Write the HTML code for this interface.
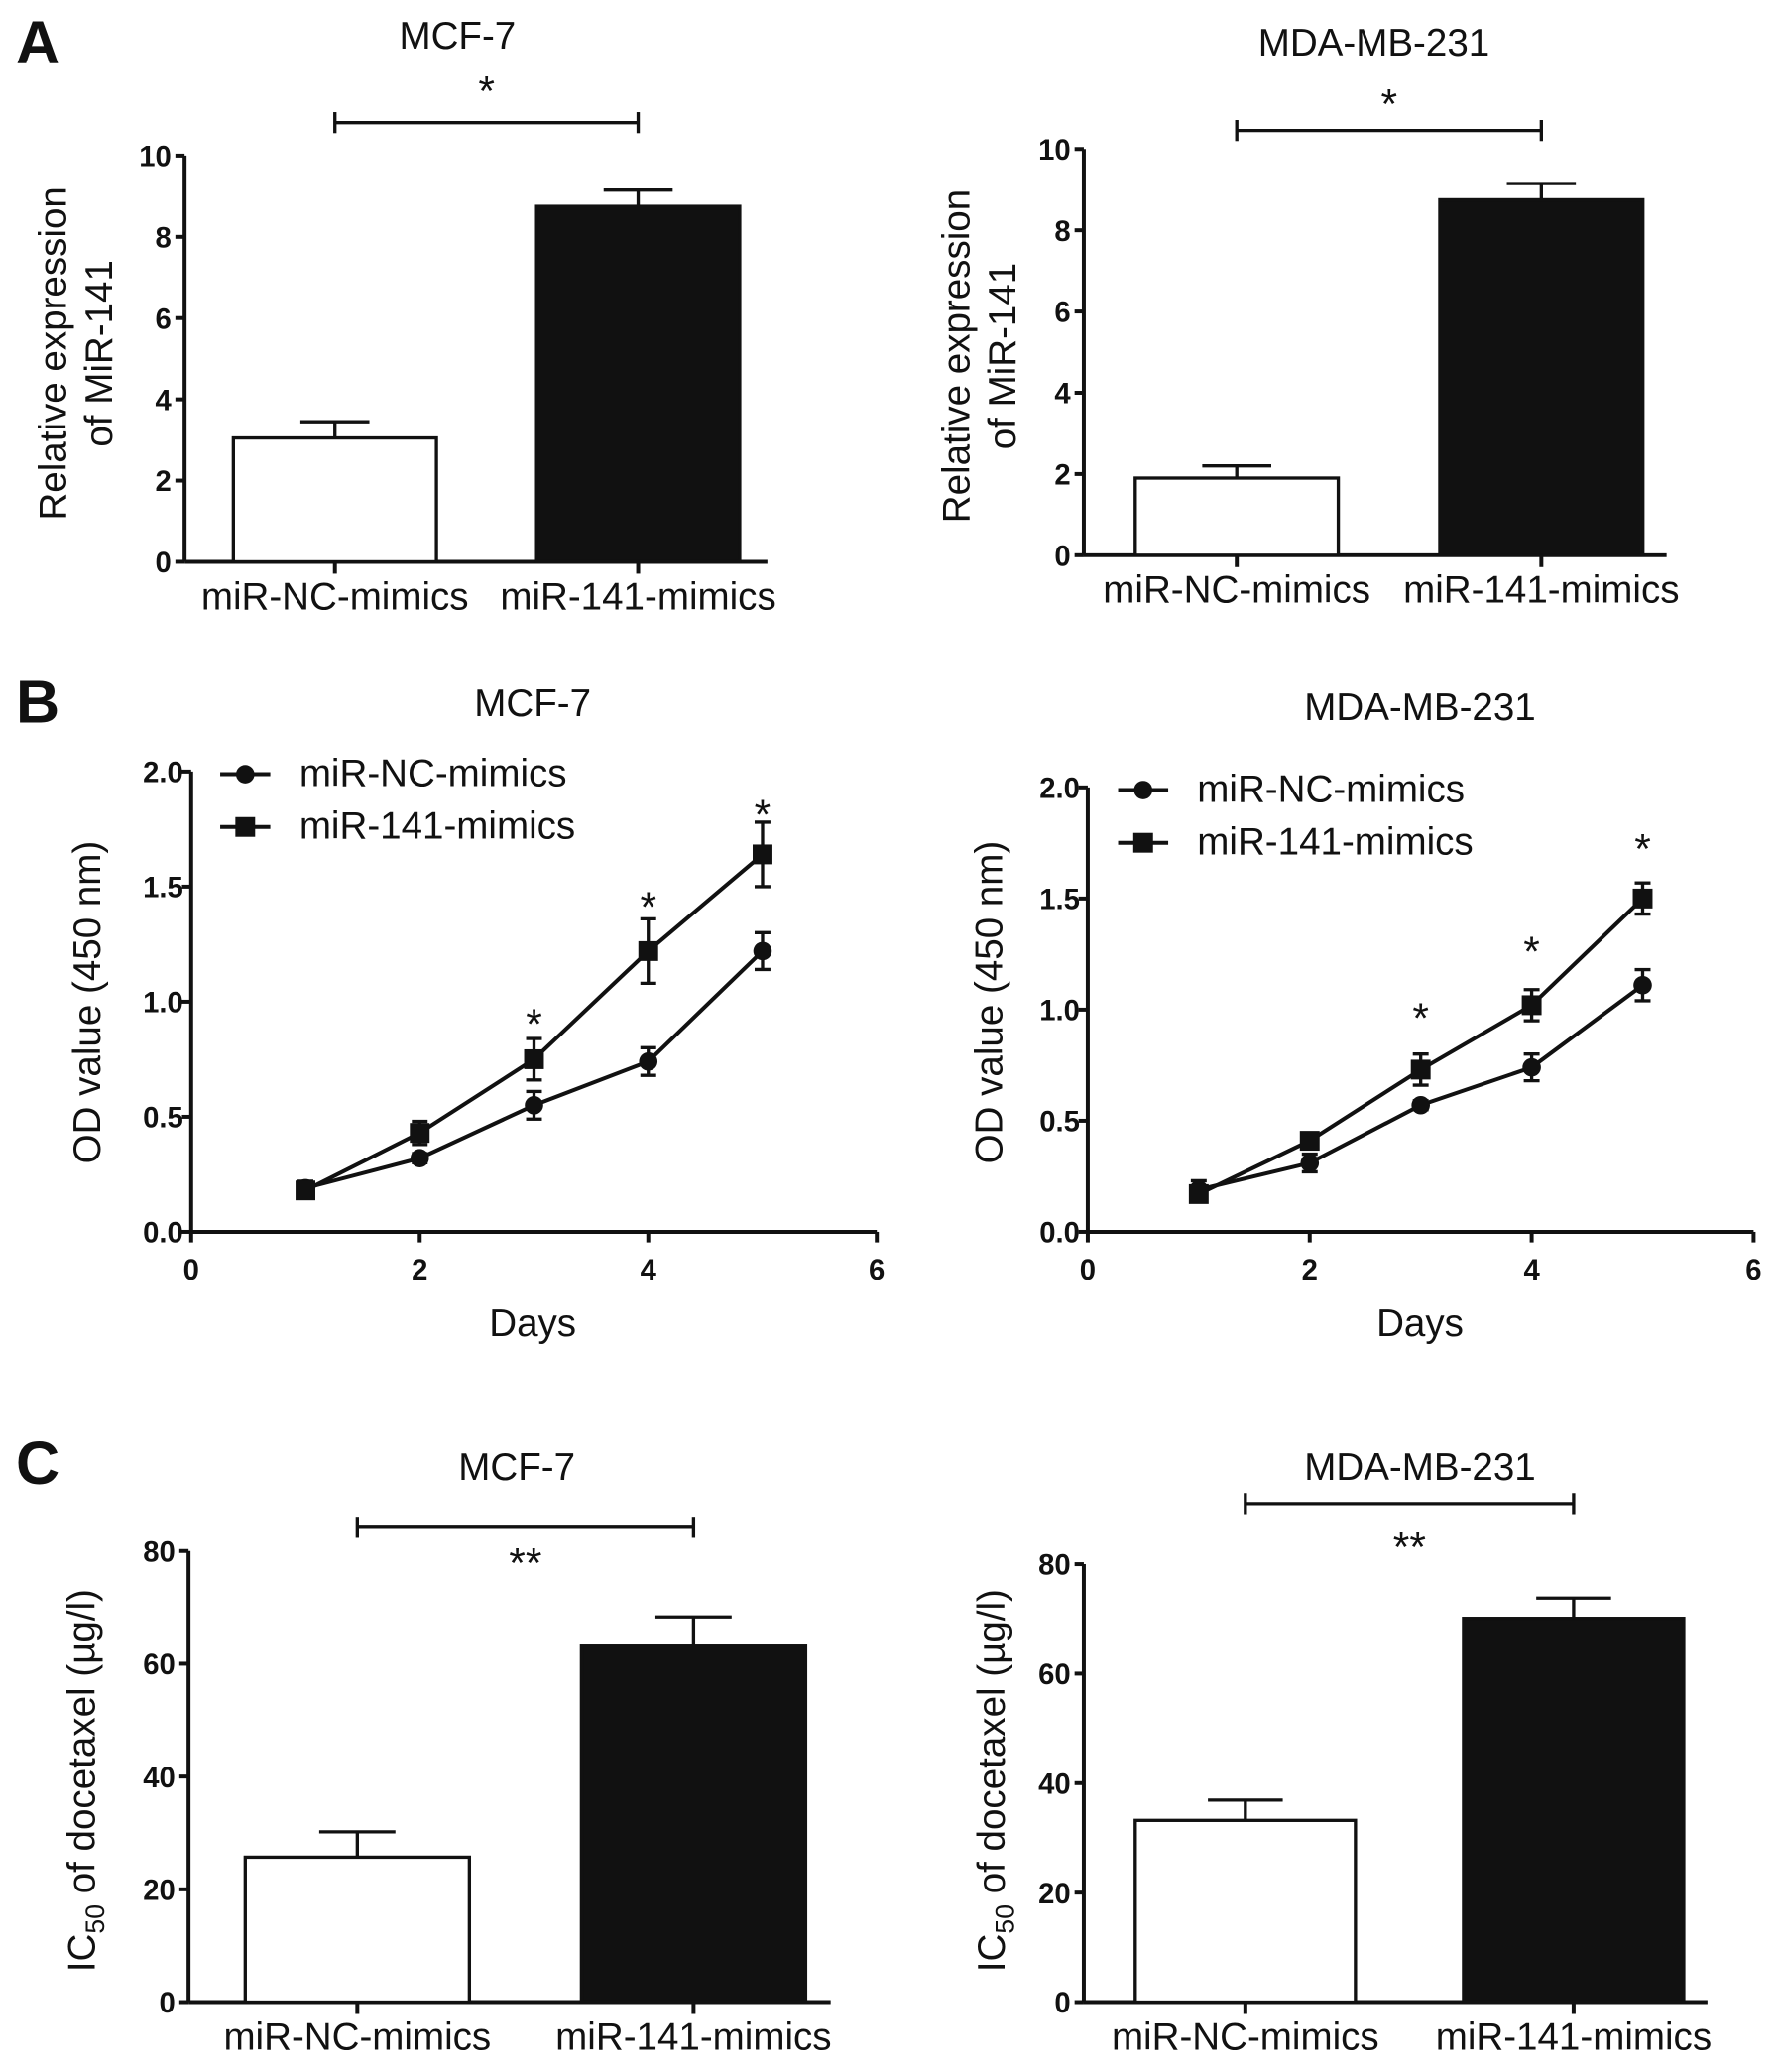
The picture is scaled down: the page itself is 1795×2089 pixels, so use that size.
<!DOCTYPE html>
<html><head><meta charset="utf-8"><style>
html,body{margin:0;padding:0;background:#fff;}
svg{display:block;}
text{font-family:"Liberation Sans Narrow","Liberation Sans",sans-serif;fill:#111;}
.tk{font-weight:bold;font-size:22px;}
.ttl{font-size:29px;}
.st{font-size:32px;}
.lab{font-size:29px;}
.pl{font-family:"Liberation Sans",sans-serif;font-weight:bold;font-size:46px;}
</style></head><body>
<svg id="fig" width="1795" height="2089" viewBox="0 0 1350 1571" preserveAspectRatio="none" xmlns="http://www.w3.org/2000/svg">
<text class="pl" x="12" y="48">A</text>
<text class="pl" x="12" y="548">B</text>
<text class="pl" x="12" y="1125">C</text>
</svg>
<script>
// ---- Panel A data ----
const barCats = ["miR-NC-mimics","miR-141-mimics"];
const aMcfVals = [3.05, 8.75];
const aMcfErr = [0.4, 0.4];
const aMdaVals = [1.9, 8.75];
const aMdaErr = [0.3, 0.4];
const aTicks = [0,2,4,6,8,10];
// ---- Panel B data ----
const days = [1,2,3,4,5];
const bMcfNC = [0.19,0.32,0.55,0.74,1.22];
const bMcfNCErr = [0.03,0.02,0.06,0.06,0.08];
const bMcf141 = [0.18,0.43,0.75,1.22,1.64];
const bMcf141Err = [0.03,0.05,0.09,0.14,0.14];
const bMdaNC = [0.19,0.31,0.57,0.74,1.11];
const bMdaNCErr = [0.04,0.04,0.02,0.06,0.07];
const bMda141 = [0.17,0.41,0.73,1.02,1.50];
const bMda141Err = [0.03,0.02,0.07,0.07,0.07];
const bYTicks = ["0.0","0.5","1.0","1.5","2.0"];
const bXTicks = [0,2,4,6];
const bStarDays = [3,4,5];
const bMcfStarY = [0.92,1.43,1.83];
const bMdaStarY = [0.98,1.28,1.74];
// ---- Panel C data ----
const cMcfVals = [25.7, 63.3];
const cMcfErr = [4.5, 5.0];
const cMdaVals = [33.2, 70.1];
const cMdaErr = [3.7, 3.7];
const cTicks = [0,20,40,60,80];

const NS="http://www.w3.org/2000/svg";
const svg=document.getElementById('fig');
function el(tag,attrs,parent){const e=document.createElementNS(NS,tag);for(const k in attrs)e.setAttribute(k,attrs[k]);(parent||svg).appendChild(e);return e;}
function txt(s,x,y,cls,anchor,parent){const t=el('text',{x:x,y:y,class:cls,'text-anchor':anchor||'middle'},parent);t.textContent=s;return t;}
function line(x1,y1,x2,y2,w,parent){return el('line',{x1:x1,y1:y1,x2:x2,y2:y2,stroke:'#111','stroke-width':w||2.5},parent);}

function barChart(o){
  const g=el('g',{});
  
  
  const ys=v=>o.y0-(v/o.max)*(o.y0-o.yTop);
  line(o.ax,o.yTop,o.ax,o.y0,3,g);
  line(o.ax,o.y0,o.xEnd,o.y0,3,g);
  o.ticks.forEach(t=>{const y=ys(t);line(o.ax-7,y,o.ax,y,3,g);
    const tt=txt(String(t),o.ax-10,y+8,'tk','end',g);
    
    });
  o.vals.forEach((v,i)=>{
    const x=o.bx[i], w=o.bw, cx=x+w/2;
    const top=ys(v), et=ys(v+o.err[i]);
    line(cx,top,cx,et,2.5,g);
    line(cx-w*0.17,et,cx+w*0.17,et,2.5,g);
    const r=el('rect',{x:x,y:top,width:w,height:o.y0-top,fill:i==0?'#fff':'#111',stroke:'#111','stroke-width':2.5},g);
    
    
    line(cx,o.y0,cx,o.y0+9,3,g);
    const l=txt(barCats[i],cx,o.y0+36,'lab','middle',g);
    
    
  });
  const t=txt(o.title,o.tx,o.ty,'ttl','middle',g);
  
  
  const c0=o.bx[0]+o.bw/2,c1=o.bx[1]+o.bw/2;
  line(c0,o.brY,c1,o.brY,2.5,g);line(c0,o.brY-8,c0,o.brY+8,2.5,g);line(c1,o.brY-8,c1,o.brY+8,2.5,g);
  const s=txt(o.star,(c0+c1)/2,o.starY+4,'st','middle',g);
  
  
  o.ylab.forEach((s,i)=>{const yl=el('text',{class:'lab','text-anchor':'middle',transform:`translate(${o.ylx[i]},${o.yly}) rotate(-90)`},g);
    if(typeof s==='string')yl.textContent=s;else{yl.textContent='IC';const sub=el('tspan',{'font-size':'20','dy':'7'},yl);sub.textContent='50';const r=el('tspan',{'dy':'-7'},yl);r.textContent=' of docetaxel (µg/l)';}
    
    });
}

barChart({name:'chart-a-mcf7',title:'MCF-7',tx:347,ty:37,ax:140,yTop:118,y0:426,xEnd:582,max:10,ticks:aTicks,vals:aMcfVals,err:aMcfErr,bx:[177,407],bw:154,brY:93,star:'*',starY:76,ylab:['Relative expression','of MiR-141'],ylx:[50,85],yly:268});
barChart({name:'chart-a-mda',title:'MDA-MB-231',tx:1042,ty:42,ax:822,yTop:113,y0:421,xEnd:1264,max:10,ticks:aTicks,vals:aMdaVals,err:aMdaErr,bx:[861,1092],bw:154,brY:99,star:'*',starY:86,ylab:['Relative expression','of MiR-141'],ylx:[735,770],yly:270});
barChart({name:'chart-c-mcf7',title:'MCF-7',tx:392,ty:1122,ax:143,yTop:1176,y0:1518,xEnd:630,max:80,ticks:cTicks,vals:cMcfVals,err:cMcfErr,bx:[186,441],bw:170,brY:1158,star:'**',starY:1192,ylab:[0],ylx:[72],yly:1350});
barChart({name:'chart-c-mda',title:'MDA-MB-231',tx:1077,ty:1122,ax:822,yTop:1186,y0:1518,xEnd:1295,max:80,ticks:cTicks,vals:cMdaVals,err:cMdaErr,bx:[861,1110],bw:167,brY:1140,star:'**',starY:1180,ylab:[0],ylx:[762],yly:1350});

function lineChart(o){
  const g=el('g',{});
  
  
  const xs=d=>o.ax+d/6*(o.xR-o.ax), ys=v=>o.y0-v/2*(o.y0-o.yTop);
  line(o.ax,o.yTop,o.ax,o.y0,3,g);line(o.ax,o.y0,o.xR,o.y0,3,g);
  bYTicks.forEach(t=>{const y=ys(+t);line(o.ax-7,y,o.ax,y,3,g);const tt=txt(t,o.ax-6,y+8,'tk','end',g);
    });
  bXTicks.forEach(t=>{const x=xs(t);line(x,o.y0,x,o.y0+8,3,g);const tt=txt(String(t),x,o.y0+36,'tk','middle',g);
    });
  [[o.nc,o.ncE,'c','series-nc-mimics'],[o.s141,o.s141E,'s','series-141-mimics']].forEach(([vals,errs,m,nm])=>{
    const sg=el('g',{},g);
    
    
    el('polyline',{points:days.map((d,i)=>xs(d)+','+ys(vals[i])).join(' '),fill:'none',stroke:'#111','stroke-width':3},sg);
    days.forEach((d,i)=>{const x=xs(d),a=ys(vals[i]+errs[i]),b=ys(vals[i]-errs[i]);
      line(x,a,x,b,2.5,sg);line(x-6,a,x+6,a,2.5,sg);line(x-6,b,x+6,b,2.5,sg);
      const mk=m=='c'?el('circle',{cx:x,cy:ys(vals[i]),r:7,fill:'#111'},sg):el('rect',{x:x-7.5,y:ys(vals[i])-7.5,width:15,height:15,fill:'#111'},sg);
      });
  });
  bStarDays.forEach((d,i)=>{const s=txt('*',xs(d),ys(o.starY[i])+14,'st','middle',g);
    });
  const t=txt(o.title,o.tx,o.ty,'ttl','middle',g);
  const dl=txt('Days',o.tx,o.y0+79,'lab','middle',g);
  const yl=el('text',{class:'lab','text-anchor':'middle',transform:`translate(${o.ylx},760) rotate(-90)`},g);yl.textContent='OD value (450 nm)';
  
  [['miR-NC-mimics',o.lgY,'c'],['miR-141-mimics',o.lgY+40,'s']].forEach(([s,y,m])=>{
    const lg=el('g',{},g);
    line(o.lgX,y,o.lgX+38,y,3,lg);
    if(m=='c')el('circle',{cx:o.lgX+19,cy:y,r:7,fill:'#111'},lg);else el('rect',{x:o.lgX+11.5,y:y-7.5,width:15,height:15,fill:'#111'},lg);
    txt(s,o.lgX+60,y+9,'ttl','start',lg);
  });
}
lineChart({name:'chart-b-mcf7',title:'MCF-7',tx:404,ty:543,ax:145,xR:665,yTop:585,y0:934,nc:bMcfNC,ncE:bMcfNCErr,s141:bMcf141,s141E:bMcf141Err,starY:bMcfStarY,ylx:76,lgX:167,lgY:587});
lineChart({name:'chart-b-mda',title:'MDA-MB-231',tx:1077,ty:546,ax:825,xR:1330,yTop:597,y0:934,nc:bMdaNC,ncE:bMdaNCErr,s141:bMda141,s141E:bMda141Err,starY:bMdaStarY,ylx:760,lgX:848,lgY:599});
</script>
</body></html>
